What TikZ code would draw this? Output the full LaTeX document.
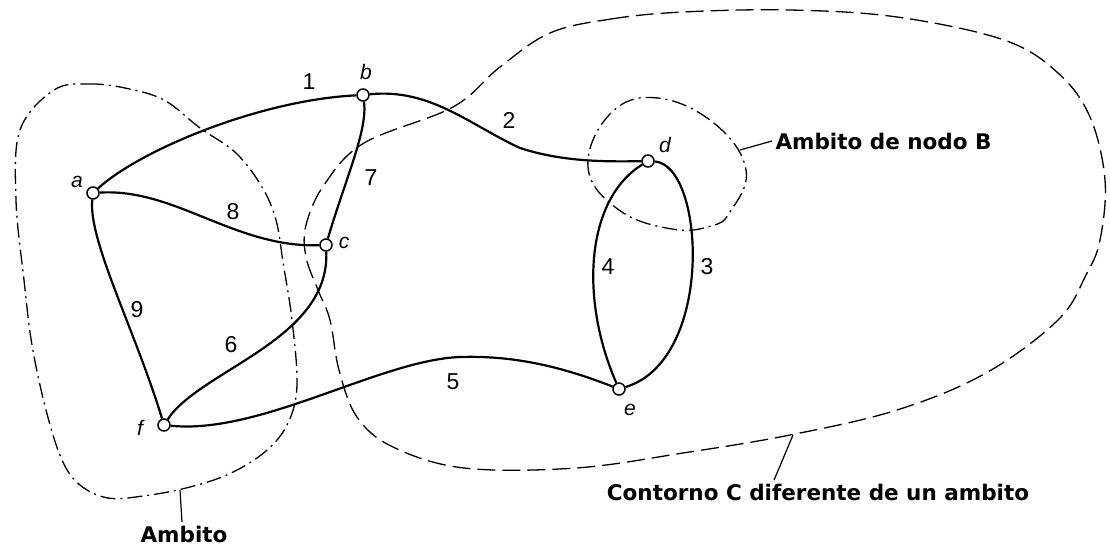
\documentclass[tikz,border=0pt]{standalone}
\usepackage{fontspec}
\setmainfont{Liberation Sans}
\newfontfamily\notefont{DejaVu Sans}
\begin{document}
\begin{tikzpicture}[
    x=1pt, y=-1pt,
    vertex/.style={
        circle, draw=black, fill=white, line width=1.5pt,
        inner sep=0pt, minimum size=12pt
    },
    edge/.style={line width=2.2pt, black},
    num/.style={font=\fontsize{23}{23}\selectfont},
    lbl/.style={font=\fontsize{21}{21}\selectfont\itshape},
    note/.style={font=\notefont\bfseries\fontsize{21.5}{21.5}\selectfont},
    ambit/.style={line width=1.3pt, dash pattern=on 15pt off 5pt on 2pt off 5pt},
    contour/.style={line width=1.3pt, dash pattern=on 18pt off 7pt},
    leader/.style={line width=1.2pt},
]
\useasboundingbox (0,0) rectangle (1110,550);

% Contours
\draw[ambit] plot[smooth cycle, tension=0.6] coordinates {
    (54,90) (89,84) (125,88) (164,100) (200,128) (236,153) (262,187)
    (276,220) (283,262) (292,320) (297,385) (288,423) (266,451) (229,474)
    (186,488) (143,496) (108,498) (80,485) (62,460) (46,410) (32,345)
    (24,280) (16,200) (20,130)};
\draw[contour] plot[smooth cycle, tension=0.6] coordinates {
    (550,33) (611,19) (683,12) (790,10) (897,17) (1004,40) (1058,73)
    (1090,117) (1105,180) (1100,240) (1086,275) (1058,320) (986,373)
    (897,410) (790,435) (683,453) (576,468) (464,468) (393,447) (357,417)
    (339,370) (330,320) (318,290) (306,257) (306,225) (324,185) (364,143)
    (453,107) (500,67)};
\draw[ambit] plot[smooth cycle, tension=0.7] coordinates {
    (658,98) (715,124) (746,170) (730,212) (711,226) (672,229) (619,210)
    (588,167) (611,113)};

% Nodes
\node[vertex] (a) at (93,193) {};
\node[vertex] (b) at (363,95) {};
\node[vertex] (c) at (326,245) {};
\node[vertex] (d) at (648,161) {};
\node[vertex] (e) at (619,389) {};
\node[vertex] (f) at (164,425) {};

\node[lbl] (la) at (77,182) {a};
\node[lbl] (lb) at (366,72) {b};
\node[lbl] (lc) at (344,243) {c};
\node[lbl] (ld) at (665,145) {d};
\node[lbl] (le) at (630,410) {e};
\node[lbl] (lf) at (140,428) {f};

% Edges
\draw[edge] (a) .. controls (140,150) and (260,100) .. (b);
\draw[edge] (b) .. controls (430,88) and (470,125) .. (520,148)
    .. controls (560,161) and (600,162) .. (d);
\draw[edge] (b) .. controls (368,130) and (345,180) .. (c);
\draw[edge] (a) .. controls (175,188) and (235,248) .. (c);
\draw[edge] (a) .. controls (88,240) and (135,330) .. (f);
\draw[edge] (f) .. controls (200,370) and (330,340) .. (c);
\draw[edge] (f) .. controls (260,435) and (380,360) .. (460,357)
    .. controls (520,355) and (570,370) .. (e);
\draw[edge] (d) .. controls (585,200) and (580,300) .. (e);
\draw[edge] (d) .. controls (705,165) and (715,360) .. (e);

% Edge numbers
\node[num] (n1) at (309,82) {1};
\node[num] (n2) at (509,120) {2};
\node[num] (n3) at (707,267) {3};
\node[num] (n4) at (608,267) {4};
\node[num] (n5) at (453,382) {5};
\node[num] (n6) at (231,345) {6};
\node[num] (n7) at (371,178) {7};
\node[num] (n8) at (233,212) {8};
\node[num] (n9) at (137,310) {9};

% Notes
\node[note, anchor=west] (tB) at (772,141) {Ambito de nodo B};
\node[note] (tC) at (818,492) {Contorno C diferente de un ambito};
\node[note] (tA) at (184,534) {Ambito};
\coordinate (pB) at (740,150);
\coordinate (pC) at (793,435);
\coordinate (pA) at (180,490);
\draw[leader] (pB) -- (tB.west);
\draw[leader] (pC) -- (tC.north -| 774,0);
\draw[leader] (pA) -- (tA.north -| 182,0);

\end{tikzpicture}
\end{document}
